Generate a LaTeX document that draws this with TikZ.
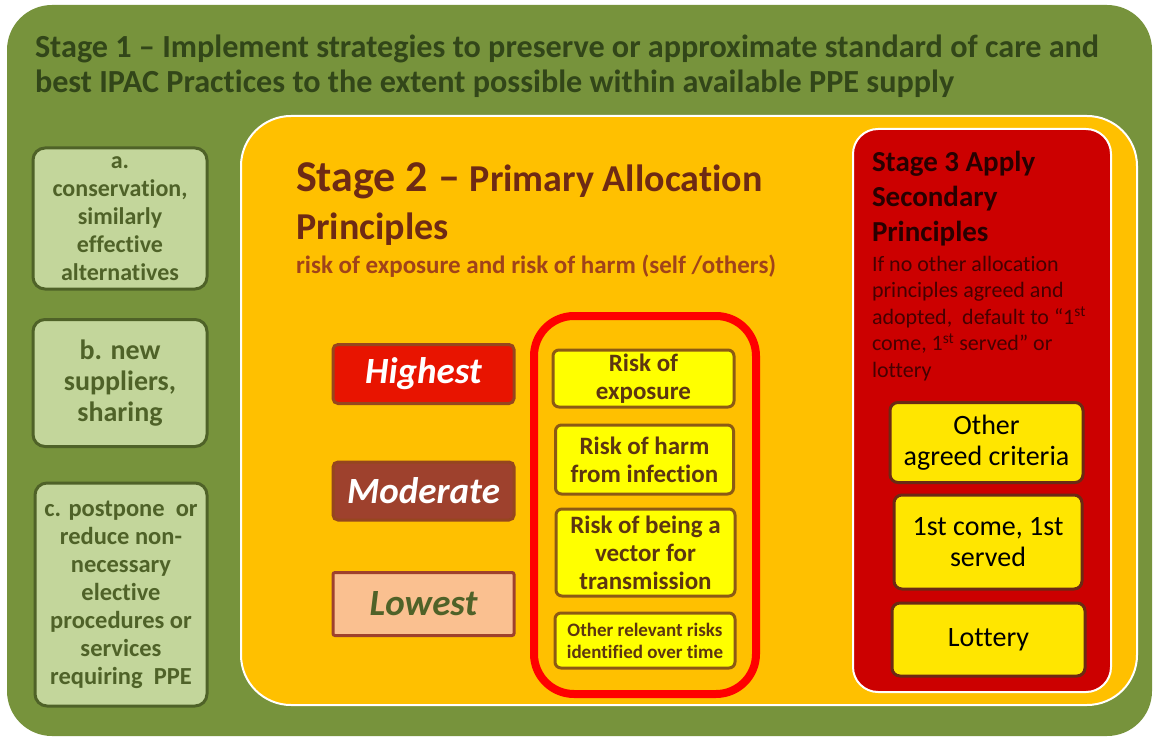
\documentclass[tikz,border=0pt]{standalone}
\usepackage{fontspec}
\setmainfont{Carlito}[Ligatures=NoCommon]
\definecolor{olivebg}{RGB}{119,147,60}
\definecolor{titlegreen}{RGB}{50,70,25}
\definecolor{lightgreen}{RGB}{195,214,155}
\definecolor{darkgreen}{RGB}{79,98,40}
\definecolor{amber}{RGB}{255,192,0}
\definecolor{maroon}{RGB}{110,42,20}
\definecolor{rust}{RGB}{160,67,26}
\definecolor{hired}{RGB}{232,20,0}
\definecolor{modbrown}{RGB}{158,65,45}
\definecolor{peach}{RGB}{250,192,144}
\definecolor{edgebrown}{RGB}{150,70,30}
\definecolor{riskyellow}{RGB}{255,255,0}
\definecolor{riskedge}{RGB}{140,90,20}
\definecolor{risktext}{RGB}{92,53,17}
\definecolor{stagered}{RGB}{204,0,0}
\definecolor{s3text}{RGB}{40,0,0}
\definecolor{s3body}{RGB}{70,0,0}
\definecolor{s3yellow}{RGB}{255,230,0}
\definecolor{s3edge}{RGB}{107,42,20}
\tikzset{
  optbox/.style={draw=darkgreen, line width=3pt, fill=lightgreen, rounded corners=12pt,
    text=darkgreen, align=center, inner sep=0pt},
  levelbox/.style={line width=3pt, rounded corners=5pt, minimum width=181pt, inner sep=0pt,
    font=\fontsize{37}{40}\selectfont\bfseries\itshape},
  riskbox/.style={draw=riskedge, fill=riskyellow, line width=3pt, rounded corners=6pt,
    text=risktext, align=center, inner sep=0pt, font=\fontsize{25}{28}\selectfont\bfseries},
  secbox/.style={draw=s3edge, fill=s3yellow, line width=3pt, rounded corners=8pt,
    text=black, align=center, inner sep=0pt, font=\fontsize{28}{31}\selectfont},
  plain/.style={inner sep=0pt, outer sep=0pt}
}
\begin{document}
\begin{tikzpicture}[x=1pt,y=-1pt]
\useasboundingbox[fill=white] (0,0) rectangle (1154,738);
% Stage 1 container
\fill[olivebg, rounded corners=45pt] (7,5) rectangle (1152,736);
\node[plain, anchor=base west, text=titlegreen, font=\fontsize{32.2}{35}\selectfont\bfseries] (t1a) at (35,58)
  {Stage 1 – Implement strategies to preserve or approximate standard of care and};
\node[plain, anchor=base west, text=titlegreen, font=\fontsize{32.2}{35}\selectfont\bfseries] (t1b) at (35,93)
  {best IPAC Practices to the extent possible within available PPE supply};
% left option boxes
\node[optbox, minimum width=174pt, minimum height=141pt, font=\fontsize{24}{28}\selectfont\bfseries] (oa) at (120,218.5)
  {a.\\conservation,\\similarly\\effective\\alternatives};
\node[optbox, minimum width=174pt, minimum height=127pt, font=\fontsize{28}{31}\selectfont\bfseries] (ob) at (120,383)
  {b. new\\suppliers,\\sharing};
\node[optbox, minimum width=172pt, minimum height=223pt, font=\fontsize{24.5}{28}\selectfont\bfseries] (oc) at (121,594.5)
  {c. postpone\ \ or\\reduce non-\\necessary\\elective\\procedures or\\services\\requiring\ \ PPE};
% Stage 2 container
\draw[white, line width=2pt, fill=amber, rounded corners=50pt] (241,116) rectangle (1137,705);
\node[plain, anchor=base west, text=maroon] (t2a) at (296,192)
  {\fontsize{44}{48}\selectfont\bfseries Stage 2 – \fontsize{38}{42}\selectfont Primary Allocation};
\node[plain, anchor=base west, text=maroon, font=\fontsize{38}{42}\selectfont\bfseries] (t2b) at (296,240)
  {Principles};
\node[plain, anchor=base west, text=rust, font=\fontsize{25}{28}\selectfont\bfseries] (t2c) at (296,273)
  {risk of exposure and risk of harm (self /others)};
% levels
\node[levelbox, draw=edgebrown, fill=hired, text=white, minimum height=59pt] (hi) at (423.5,374) {Highest};
\node[levelbox, draw=edgebrown, fill=modbrown, text=white, minimum height=58pt] (mo) at (423.5,491) {Moderate};
\node[levelbox, draw=modbrown, fill=peach, text=darkgreen, minimum height=63pt, rounded corners=2pt] (lo) at (423.5,604) {Lowest};
% risk frame
\node[draw=red, line width=8pt, rounded corners=40pt, minimum width=222pt, minimum height=378pt, inner sep=0pt] (frame) at (645,505) {};
\node[riskbox, minimum width=181pt, minimum height=57pt] (r1) at (643.5,378.5) {Risk of\\exposure};
\node[riskbox, minimum width=178pt, minimum height=69pt] (r2) at (644.5,459.5) {Risk of harm\\from infection};
\node[riskbox, minimum width=179pt, minimum height=87pt] (r3) at (645.5,552.5) {Risk of being a\\vector for\\transmission};
\node[riskbox, minimum width=180pt, minimum height=55pt, font=\fontsize{19}{22}\selectfont\bfseries] (r4) at (645,640.5) {Other relevant risks\\identified over time};
% Stage 3 container
\draw[white, line width=2pt, fill=stagered, rounded corners=25pt] (853,129) rectangle (1111,692);
\node[plain, anchor=north west, align=left, text=s3text, font=\fontsize{29}{35}\selectfont\bfseries] (t3a) at (872,151)
  {Stage 3 Apply\\Secondary\\Principles};
\node[plain, anchor=north west, align=left, text=s3body, font=\fontsize{22}{26.5}\selectfont] (t3b) at (872,256)
  {If no other allocation\\principles agreed and\\adopted,\ \ default to “1\textsuperscript{st}\\come, 1\textsuperscript{st} served” or\\lottery};
\node[secbox, minimum width=193pt, minimum height=80pt] (s1) at (986.5,442.5) {Other\\agreed criteria};
\node[secbox, minimum width=188pt, minimum height=94pt] (s2) at (988,542) {1st come, 1st\\served};
\node[secbox, minimum width=193pt, minimum height=73pt] (s3) at (988.5,639.5) {Lottery};
\end{tikzpicture}
\end{document}
